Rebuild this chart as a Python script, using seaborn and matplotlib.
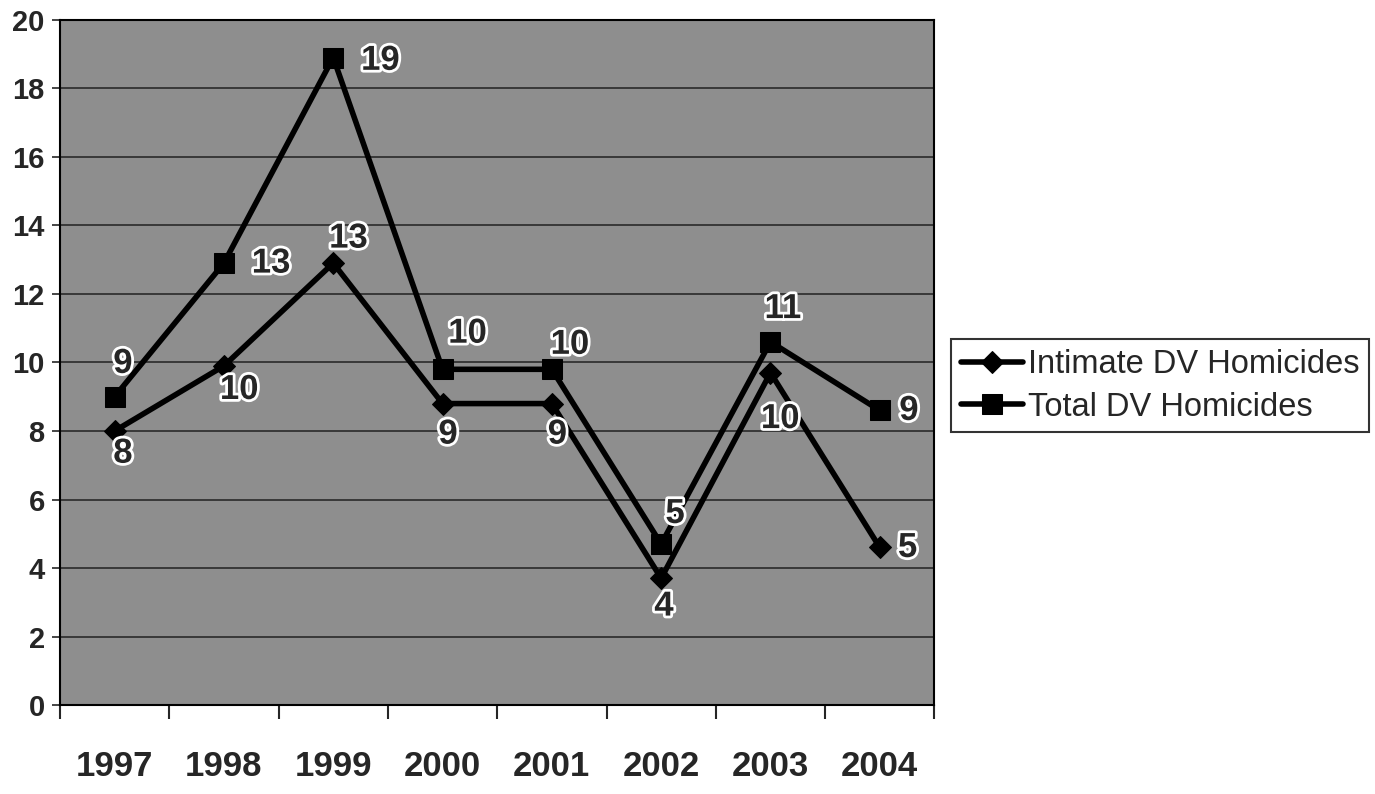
import matplotlib
matplotlib.use("Agg")
import matplotlib.pyplot as plt
import matplotlib.patheffects as pe
import pandas as pd
import seaborn as sns

years = ['1997', '1998', '1999', '2000', '2001', '2002', '2003', '2004']
intimate = [8.0, 9.9, 12.9, 8.8, 8.8, 3.7, 9.7, 4.6]
total = [9.0, 12.9, 18.9, 9.8, 9.8, 4.7, 10.6, 8.6]
series_names = ['Intimate DV Homicides', 'Total DV Homicides']

df = pd.DataFrame({
    'Year': years * 2,
    'Homicides': intimate + total,
    'Series': [series_names[0]] * len(years) + [series_names[1]] * len(years),
})

sns.set_style("white")
plt.rcParams['font.family'] = ['Liberation Sans', 'DejaVu Sans']

fig = plt.figure(figsize=(13.75, 7.94), dpi=100)
ax = fig.add_axes([0.0436, 0.112, 0.636, 0.863])
ax.set_facecolor('#8e8e8e')

sns.lineplot(data=df, x='Year', y='Homicides', hue='Series', style='Series',
             palette=['black', 'black'], markers={series_names[0]: 'D', series_names[1]: 's'},
             dashes=False, markersize=14, linewidth=4, markeredgecolor='black',
             ax=ax, legend=True, sort=False)
for ln in ax.lines:
    if ln.get_marker() == 'D':
        ln.set_markersize(11)

# data labels (offsets in points, hand-placed like the original)
int_off = [(6, -16), (11, -17), (11, 18), (4, -22), (4, -22), (2, -20), (7, -33), (20, 0)]
tot_off = [(6, 24), (34, 0), (34, -2), (18, 26), (13, 18), (10, 22), (9, 24), (21, 0)]
halo = [pe.withStroke(linewidth=4, foreground='white')]
for i, y in enumerate(years):
    ax.annotate(f"{intimate[i]:.0f}", (i, intimate[i]), textcoords='offset points',
                xytext=int_off[i], ha='center', va='center', fontsize=25,
                fontweight='bold', path_effects=halo)
    ax.annotate(f"{total[i]:.0f}", (i, total[i]), textcoords='offset points',
                xytext=tot_off[i], ha='center', va='center', fontsize=25,
                fontweight='bold', path_effects=halo)

ax.set_ylim(0, 20)
ax.set_xlim(-0.5, len(years) - 0.5)
ax.set_yticks(range(0, 21, 2))
ax.yaxis.grid(True, color='#2a2a2a', linewidth=1.2)
ax.set_axisbelow(True)
ax.tick_params(axis='y', labelsize=21, length=6, width=1.2, left=True, pad=5)
for t in ax.get_yticklabels():
    t.set_fontweight('bold')

ax.set_xticks(range(len(years)))
ax.set_xticklabels(years, fontsize=25, fontweight='bold')
ax.tick_params(axis='x', length=0, pad=32)
ax.set_xticks([i - 0.5 for i in range(len(years) + 1)], minor=True)
ax.tick_params(axis='x', which='minor', length=10, width=1.5, bottom=True)
ax.set_xlabel('')
ax.set_ylabel('')
for s in ax.spines.values():
    s.set_color('black')
    s.set_linewidth(1.5)

handles, labels = ax.get_legend_handles_labels()
ax.get_legend().remove()
leg = fig.legend(handles, labels, loc='center left', bbox_to_anchor=(0.692, 0.514),
                 fontsize=23.5, frameon=True, fancybox=False, edgecolor='black',
                 handlelength=1.9, handletextpad=0.15, borderpad=0.3, labelspacing=0.35,
                 borderaxespad=0)
leg.get_frame().set_linewidth(1.5)

fig.savefig('out.png', dpi=100)
